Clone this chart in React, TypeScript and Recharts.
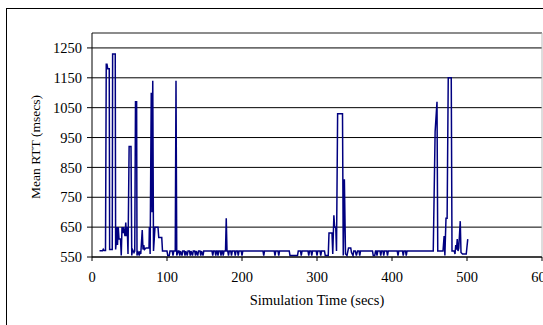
import { CartesianGrid, Line, LineChart, ReferenceLine, XAxis, YAxis } from "recharts";

// simulation time (secs) and mean RTT (msecs) in segments
const earlyTimes = [
  10, 14, 15, 16, 18, 19, 20, 21, 23, 23.5,
  27, 27.5, 31, 31.5, 32, 33, 34, 35, 36, 38,
  39, 40, 41, 42, 44, 45, 46, 47, 48, 49.5,
  52, 53, 54, 56, 57, 58, 59.5, 60, 61, 63,
  64, 65, 67, 68, 69, 70, 72, 76, 76.5, 77.5,
  79, 80, 81, 82, 84, 88, 89, 93, 94, 100,
  101, 103, 104, 107, 108, 109, 111, 112, 113, 115,
];
const earlyRtt = [
  571, 571, 576, 572, 572, 1195, 1195, 1180, 1180, 575,
  575, 1230, 1230, 575, 590, 650, 590, 650, 610, 610,
  555, 650, 630, 650, 620, 665, 620, 650, 560, 920,
  920, 555, 575, 565, 570, 1070, 1070, 555, 570, 555,
  570, 560, 640, 575, 590, 575, 580, 580, 650, 560,
  1100, 700, 1140, 570, 650, 650, 615, 615, 570, 570,
  555, 555, 570, 570, 555, 570, 570, 1140, 555, 570,
];

const midTimes = [
  116, 117, 118, 120, 121, 123, 124, 125, 127, 128,
  130, 131, 132, 134, 135, 137, 138, 139, 141, 142,
  144, 145, 146, 148, 149, 160, 161, 162, 164, 165,
  166, 167, 168, 169, 171, 172, 173, 174, 175, 176,
  178, 179, 180, 181, 182, 183, 185, 186, 187, 190,
  191, 192, 194, 195, 196, 199, 200, 201, 228, 229,
  230, 243, 244, 245, 248, 249, 250, 263, 264, 274,
  275, 278, 279, 280, 288, 289, 290, 292, 293, 294,
  299, 300, 301, 304, 305, 306, 310, 311, 315,
];
const midRtt = [
  570, 555, 570, 555, 570, 570, 555, 570, 555, 570,
  570, 555, 570, 555, 570, 570, 555, 570, 555, 570,
  570, 555, 570, 555, 570, 570, 555, 570, 570, 555,
  570, 570, 555, 570, 570, 555, 570, 570, 555, 570,
  570, 680, 570, 570, 555, 570, 570, 555, 570, 570,
  555, 570, 570, 555, 570, 570, 555, 570, 570, 555,
  570, 570, 555, 570, 570, 555, 570, 570, 555, 555,
  570, 570, 555, 570, 570, 555, 570, 570, 555, 570,
  570, 555, 570, 570, 555, 570, 570, 555, 555,
];

const lateTimes = [
  316, 320, 321, 322.5, 323.5, 325, 326, 327.5, 334, 335,
  336.5, 338, 340, 342, 345, 346, 348, 349, 351, 352.5,
  354, 356, 357, 358, 374, 375, 377, 378, 379, 380,
  381, 384, 385, 386, 388, 389, 390, 393, 394, 395,
  407, 408, 409, 414, 415, 416, 418, 419, 420,
];
const lateRtt = [
  630, 630, 560, 690, 650, 650, 570, 1030, 1030, 555,
  810, 560, 555, 580, 580, 565, 555, 570, 570, 555,
  570, 570, 555, 570, 570, 555, 555, 570, 570, 555,
  570, 570, 555, 570, 570, 555, 570, 570, 555, 570,
  570, 555, 570, 570, 555, 570, 570, 555, 570,
];

const endTimes = [
  455, 457.5, 460, 461, 468, 469.5, 470.5, 472, 473.5, 475,
  479, 480, 483, 484, 485, 486, 487, 488, 489, 491,
  492, 494, 499, 501,
];
const endRtt = [
  570, 970, 1070, 570, 570, 620, 555, 680, 680, 1150,
  1150, 570, 570, 560, 590, 575, 610, 570, 580, 670,
  565, 560, 560, 610,
];

const xTicks = [0, 100, 200, 300, 400, 500, 600];
const yTicks = [550, 650, 750, 850, 950, 1050, 1150, 1250];

const times = [...earlyTimes, ...midTimes, ...lateTimes, ...endTimes];
const rtt = [...earlyRtt, ...midRtt, ...lateRtt, ...endRtt];
const data = times.map((t, i) => ({ t, rtt: rtt[i] }));

const font = "Times New Roman, Liberation Serif, Tinos, DejaVu Serif, serif";
const tickStyle = { fontSize: 14.5, fill: "#000", fontFamily: font, style: { fontFamily: font } };

export default function App() {
  return (
    <div
      style={{
        position: "fixed",
        left: 0,
        top: 0,
        width: 543,
        height: 325,
        overflow: "hidden",
        background: "#fff",
        fontFamily: font,
      }}
    >
      <div
        style={{
          position: "absolute",
          left: 6,
          top: 8,
          width: 700,
          height: 500,
          border: "1px solid #000",
        }}
      />
      <div style={{ position: "absolute", left: 0, top: 0 }}>
        <LineChart
          width={560}
          height={325}
          data={data}
          margin={{ top: 33, right: 18, bottom: 0, left: 0 }}
          style={{ fontFamily: font }}
        >
          <CartesianGrid vertical={false} stroke="#000" />
          <ReferenceLine y={1300} stroke="#999" />
          <ReferenceLine x={600} stroke="#bbb" />
          <XAxis
            dataKey="t"
            type="number"
            domain={[0, 600]}
            ticks={xTicks}
            interval={0}
            height={68}
            stroke="#000"
            tickSize={4}
            tickMargin={11}
            tick={tickStyle}
            label={() => (
              <text x={317} y={305} textAnchor="middle" style={{ fontFamily: font }} fontSize={14.5} fill="#000">
                Simulation Time (secs)
              </text>
            )}
          />
          <YAxis
            type="number"
            domain={[550, 1300]}
            ticks={yTicks}
            interval={0}
            width={92}
            stroke="#000"
            tickSize={5}
            tickMargin={5}
            tick={tickStyle}
            label={() => (
              <text
                x={40}
                y={147}
                transform="rotate(-90 40 147)"
                textAnchor="middle"
                style={{ fontFamily: font }}
                fontSize={13.5}
                fill="#000"
              >
                Mean RTT (msecs)
              </text>
            )}
          />
          <Line
            type="linear"
            dataKey="rtt"
            stroke="#000080"
            strokeWidth={1.5}
            dot={false}
            isAnimationActive={false}
          />
        </LineChart>
      </div>
    </div>
  );
}
